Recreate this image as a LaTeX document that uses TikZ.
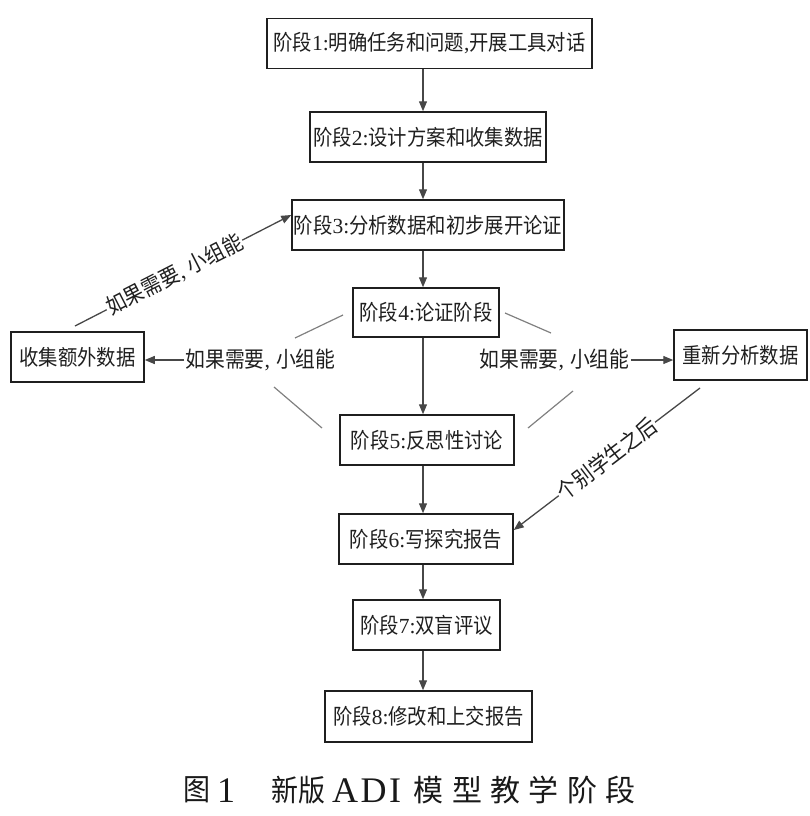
\documentclass[tikz,border=0pt]{standalone}
\usepackage{fontspec}
\setmainfont{Liberation Serif}
\newfontfamily\cjk[FakeStretch=0.9]{Noto Sans CJK SC}
\newfontfamily\capcjk[LetterSpace=28]{Noto Sans CJK SC}
\usetikzlibrary{arrows.meta}
\newcommand\zh[1]{{\cjk #1}}
\newcommand\cm{,\hspace{6pt}}
\begin{document}
\begin{tikzpicture}[x=1pt,y=-1pt,
  box/.style={draw=black!88, line width=1.5pt, minimum height=50pt, inner sep=0pt,
    font=\fontsize{21.5}{22}\selectfont, text=black!88},
  arr/.style={draw=black!72, line width=1.3pt, -{Triangle[length=10pt,width=8pt]}},
  greyline/.style={draw=black!50, line width=1.2pt},
  lbl/.style={font=\fontsize{22}{22}\selectfont, inner sep=1pt, text=black!88, fill=white},
  captxt/.style={font=\fontsize{30}{30}\selectfont, inner sep=0pt, text=black!90}]
\useasboundingbox (0,0) rectangle (809,816);
% main stage boxes
\node[box, minimum width=325pt] (b1) at (429.5,43.5) {\zh{阶段}1:\zh{明确任务和问题},\zh{开展工具对话}};
\node[box, minimum width=236pt] (b2) at (428,137) {\zh{阶段}2:\zh{设计方案和收集数据}};
\node[box, minimum width=272pt] (b3) at (428,225) {\zh{阶段}3:\zh{分析数据和初步展开论证}};
\node[box, minimum width=146pt, minimum height=49pt] (b4) at (426,312.5) {\zh{阶段}4:\zh{论证阶段}};
\node[box, minimum width=174pt] (b5) at (427,440) {\zh{阶段}5:\zh{反思性讨论}};
\node[box, minimum width=174pt] (b6) at (426,539) {\zh{阶段}6:\zh{写探究报告}};
\node[box, minimum width=147pt] (b7) at (426.5,625) {\zh{阶段}7:\zh{双盲评议}};
\node[box, minimum width=207pt, minimum height=51pt] (b8) at (428.5,716.5) {\zh{阶段}8:\zh{修改和上交报告}};
% side boxes
\node[box, minimum width=133pt] (L) at (77.5,357) {\zh{收集额外数据}};
\node[box, minimum width=133pt] (R) at (740.5,355) {\zh{重新分析数据}};
% vertical arrows
\coordinate (ax) at (423,0);
\draw[arr] (b1.south -| ax) -- (b2.north -| ax);
\draw[arr] (b2.south -| ax) -- (b3.north -| ax);
\draw[arr] (b3.south -| ax) -- (b4.north -| ax);
\draw[arr] (b4.south -| ax) -- (b5.north -| ax);
\draw[arr] (b5.south -| ax) -- (b6.north -| ax);
\draw[arr] (b6.south -| ax) -- (b7.north -| ax);
\draw[arr] (b7.south -| ax) -- (b8.north -| ax);
% left branch
\node[lbl] (lblL) at (260.5,360) {\zh{如果需要}\cm\zh{小组能}};
\draw[arr] (lblL.west) -- (lblL.west -| L.east);
\coordinate (l1a) at (343,315); \coordinate (l1b) at (295,338);
\coordinate (l2a) at (274,387); \coordinate (l2b) at (322,428);
\draw[greyline] (l1a) -- (l1b);
\draw[greyline] (l2a) -- (l2b);
% right branch
\node[lbl] (lblR) at (554.5,360) {\zh{如果需要}\cm\zh{小组能}};
\draw[arr] (lblR.east) -- (lblR.east -| R.west);
\coordinate (r1a) at (505,313); \coordinate (r1b) at (551,333);
\coordinate (r2a) at (573,391); \coordinate (r2b) at (528,428);
\draw[greyline] (r1a) -- (r1b);
\draw[greyline] (r2a) -- (r2b);
% upper-left diagonal back to stage 3
\coordinate (ulstart) at (75,326);
\draw[arr] (ulstart) -- node[lbl, sloped, pos=0.46] {\zh{如果需要}\cm\zh{小组能}} ([yshift=10pt]b3.west);
% from reanalysis to stage 6
\coordinate (rstart) at (700,388);
\draw[arr] (rstart) -- node[lbl, sloped, pos=0.5] {\zh{个别学生之后}} ([yshift=9pt]b6.east);
% caption
\node[captxt] (c1) at (197,790) {\cjk 图};
\node[captxt, font=\fontsize{36}{36}\selectfont] (c2) at (226,791) {1};
\node[captxt, anchor=west] (c3) at (271,790) {\cjk 新版};
\node[captxt, anchor=west, font=\fontsize{36}{36}\selectfont] (c4) at (332,791) {A\hspace{2.5pt}D\hspace{2.5pt}I};
\node[captxt, anchor=west] (c5) at (413.5,790) {\capcjk 模型教学阶段};
\end{tikzpicture}
\end{document}
